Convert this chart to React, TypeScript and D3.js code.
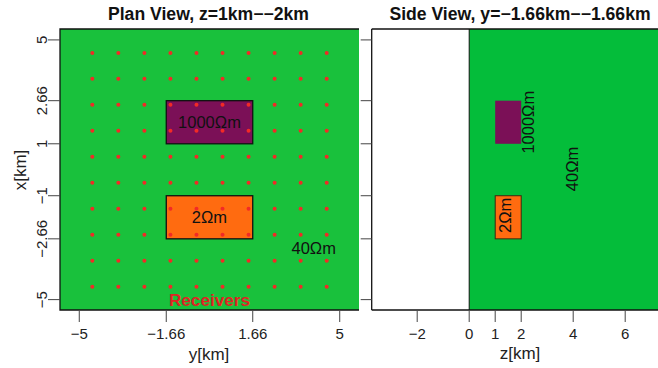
import React from "react";
import * as d3 from "d3";

// Receiver grid (km), 10 x 10 on both horizontal axes
const receiverCoords = [-4.5, -3.5, -2.5, -1.5, -0.5, 0.5, 1.5, 2.5, 3.5, 4.5];

// Anomalous blocks: extents in y, x and z (km) with resistivity
const blockNames = ["resistive", "conductive"];
const blockY0 = [-1.66, -1.66];
const blockY1 = [1.66, 1.66];
const blockX0 = [1, -2.66];
const blockX1 = [2.66, -1];
const blockZ0 = [1, 1];
const blockZ1 = [2, 2];
const blockLabels = ["1000Ωm", "2Ωm"];
const blockFills = ["#7b1057", "#ff6b10"];

// Background half-space
const backgroundLabel = "40Ωm";

// Axis ticks
const planYTicks = [-5, -1.66, 1.66, 5];
const planYTickLabels = ["−5", "−1.66", "1.66", "5"];
const xTicks = [5, 2.66, 1, -1, -2.66, -5];
const xTickLabels = ["5", "2.66", "1", "−1", "−2.66", "−5"];
const zTicks = [-2, 0, 1, 2, 4, 6];
const zTickLabels = ["−2", "0", "1", "2", "4", "6"];

const FONT = "'Liberation Sans', Arial, Helvetica, sans-serif";
const GREEN_PLAN = "#19c13c";
const GREEN_SIDE = "#04bd3a";

export default function App() {
  const W = 658;
  const H = 368;

  // Plan view scales
  const top = 29;
  const bottom = 310;
  const yPlan = d3.scaleLinear().domain([-5.74, 5.74]).range([60, 359]);
  const xScale = d3.scaleLinear().domain([-5.4, 5.42]).range([bottom, top]);
  // Side view scale
  const zScale = d3.scaleLinear().domain([-3.75, 7.3]).range([371.7, 659]);

  const tickLen = 11;

  return (
    <svg
      width={W}
      height={H}
      style={{ position: "absolute", left: 0, top: 0, background: "#fff" }}
      fontFamily={FONT}
    >
      {/* ---------------- Side view (drawn first, partly under plan view) ---------------- */}
      <g>
        <rect
          x={zScale(-3.75)}
          y={top}
          width={zScale(7.3) - zScale(-3.75)}
          height={bottom - top}
          fill="#fff"
        />
        <rect
          x={zScale(0)}
          y={top}
          width={zScale(7.3) - zScale(0)}
          height={bottom - top}
          fill={GREEN_SIDE}
        />
        <line x1={zScale(0)} x2={zScale(0)} y1={top} y2={bottom} stroke="#111" strokeWidth={1} />
        {blockNames.map((n, i) => (
          <rect
            key={"sb" + n}
            x={zScale(blockZ0[i])}
            y={xScale(blockX1[i])}
            width={zScale(blockZ1[i]) - zScale(blockZ0[i])}
            height={xScale(blockX0[i]) - xScale(blockX1[i])}
            fill={blockFills[i]}
            stroke={i === 1 ? "#3a2a10" : "none"}
            strokeWidth={1}
          />
        ))}
        {/* rotated labels */}
        <text
          transform={`translate(${zScale(2.26)},${xScale((blockX0[0] + blockX1[0]) / 2)}) rotate(-90)`}
          textAnchor="middle"
          dominantBaseline="central"
          fontSize={16.5}
          fill="#111"
        >
          {blockLabels[0]}
        </text>
        <text
          transform={`translate(${zScale(1.38)},${xScale((blockX0[1] + blockX1[1]) / 2) - 2})rotate(-90)`}
          textAnchor="middle"
          dominantBaseline="central"
          fontSize={16.5}
          fill="#111"
        >
          {blockLabels[1]}
        </text>
        <text
          transform={`translate(${zScale(3.95)},${xScale(0.03)}) rotate(-90)`}
          textAnchor="middle"
          dominantBaseline="central"
          fontSize={16.5}
          fill="#111"
        >
          {backgroundLabel}
        </text>
        {/* frame */}
        <line x1={zScale(-3.75)} x2={W} y1={top} y2={top} stroke="#111" strokeWidth={1.3} />
        <line x1={zScale(-3.75)} x2={W} y1={bottom} y2={bottom} stroke="#111" strokeWidth={1.3} />
        <line x1={zScale(-3.75)} x2={zScale(-3.75)} y1={top} y2={bottom} stroke="#111" strokeWidth={1.3} />
        {/* left ticks (labels hidden under plan view) */}
        {xTicks.map((t) => (
          <line
            key={"sxt" + t}
            x1={zScale(-3.75) - tickLen}
            x2={zScale(-3.75)}
            y1={xScale(t)}
            y2={xScale(t)}
            stroke="#444"
          />
        ))}
        {/* bottom ticks */}
        {zTicks.map((t, i) => (
          <g key={"zt" + t}>
            <line x1={zScale(t)} x2={zScale(t)} y1={bottom + 1} y2={bottom + 1 + tickLen} stroke="#444" />
            <text x={zScale(t)} y={333} textAnchor="middle" dominantBaseline="central" fontSize={15} fill="#222">
              {zTickLabels[i]}
            </text>
          </g>
        ))}
        <text x={520} y={353} textAnchor="middle" dominantBaseline="central" fontSize={17} fill="#222">
          z[km]
        </text>
        <text x={520} y={14} textAnchor="middle" dominantBaseline="central" fontSize={17.6} fontWeight="bold" fill="#111">
          Side View, y=−1.66km−−1.66km
        </text>
      </g>

      {/* ---------------- Plan view ---------------- */}
      <g>
        <rect x={yPlan(-5.74)} y={top} width={yPlan(5.74) - yPlan(-5.74)} height={bottom - top} fill={GREEN_PLAN} />
        {blockNames.map((n, i) => (
          <rect
            key={"pb" + n}
            x={yPlan(blockY0[i])}
            y={xScale(blockX1[i])}
            width={yPlan(blockY1[i]) - yPlan(blockY0[i])}
            height={xScale(blockX0[i]) - xScale(blockX1[i])}
            fill={blockFills[i]}
            stroke="#111"
            strokeWidth={1.3}
          />
        ))}
        {receiverCoords.map((rx) =>
          receiverCoords.map((ry) => (
            <circle key={`r${rx}_${ry}`} cx={yPlan(ry)} cy={xScale(rx)} r={2} fill="#f22a26" />
          ))
        )}
        {blockNames.map((n, i) => (
          <text
            key={"pl" + n}
            x={yPlan((blockY0[i] + blockY1[i]) / 2)}
            y={xScale((blockX0[i] + blockX1[i]) / 2)}
            textAnchor="middle"
            dominantBaseline="central"
            fontSize={16.5}
            fill="#111"
          >
            {blockLabels[i]}
          </text>
        ))}
        <text x={yPlan(4.0)} y={xScale(-3.0)} textAnchor="middle" dominantBaseline="central" fontSize={16.5} fill="#111">
          {backgroundLabel}
        </text>
        <text x={yPlan(0)} y={xScale(-5.0)} textAnchor="middle" dominantBaseline="central" fontSize={17.2} fontWeight="bold" fill="#e02424">
          Receivers
        </text>
        {/* frame: left, top, bottom */}
        <path
          d={`M${yPlan(5.74)},${top}H${yPlan(-5.74)}V${bottom}H${yPlan(5.74)}`}
          fill="none"
          stroke="#111"
          strokeWidth={1.3}
        />
        {/* bottom axis */}
        {planYTicks.map((t, i) => (
          <g key={"pyt" + t}>
            <line x1={yPlan(t)} x2={yPlan(t)} y1={bottom + 1} y2={bottom + 1 + tickLen} stroke="#444" />
            <text x={yPlan(t)} y={333} textAnchor="middle" dominantBaseline="central" fontSize={15} fill="#222">
              {planYTickLabels[i]}
            </text>
          </g>
        ))}
        {/* left axis */}
        {xTicks.map((t, i) => (
          <g key={"pxt" + t}>
            <line x1={60 - tickLen - 1} x2={60} y1={xScale(t)} y2={xScale(t)} stroke="#444" />
            <text
              transform={`translate(41,${xScale(t)}) rotate(-90)`}
              textAnchor="middle"
              dominantBaseline="central"
              fontSize={15}
              fill="#222"
            >
              {xTickLabels[i]}
            </text>
          </g>
        ))}
        <text x={209} y={354} textAnchor="middle" dominantBaseline="central" fontSize={17} fill="#222">
          y[km]
        </text>
        <text transform="translate(20,170) rotate(-90)" textAnchor="middle" dominantBaseline="central" fontSize={17} fill="#222">
          x[km]
        </text>
        <text x={208.5} y={14} textAnchor="middle" dominantBaseline="central" fontSize={17.6} fontWeight="bold" fill="#111">
          Plan View, z=1km−−2km
        </text>
      </g>
    </svg>
  );
}
